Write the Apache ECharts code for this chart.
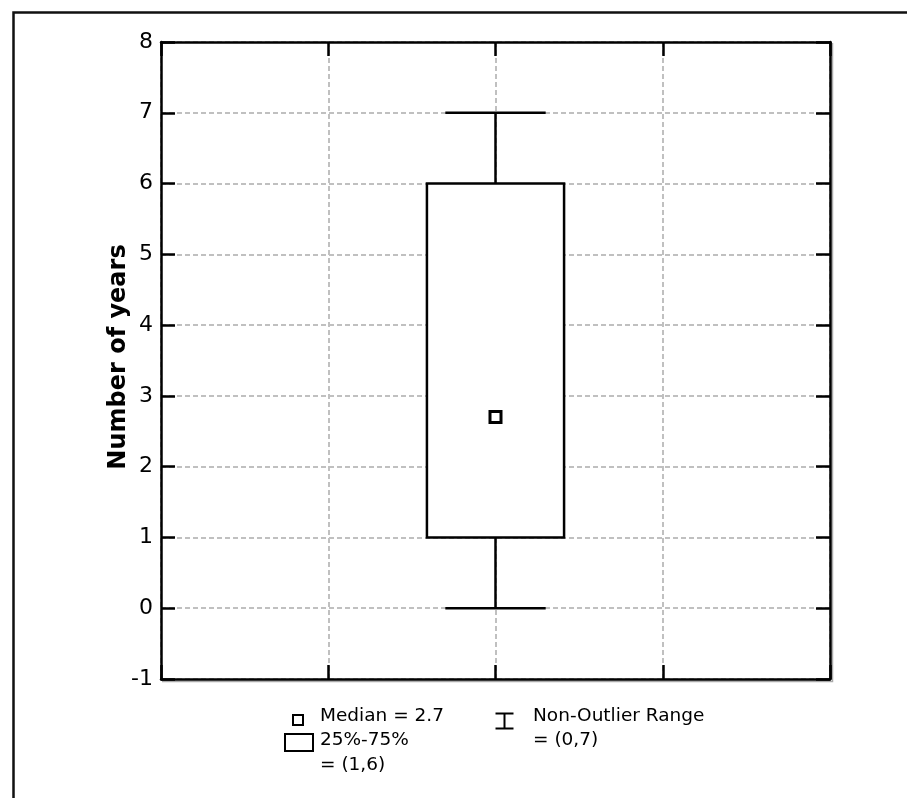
<!DOCTYPE html>
<html>
<head>
<meta charset="utf-8">
<script src="https://cdn.jsdelivr.net/npm/echarts@6/dist/echarts.min.js"></script>
<style>
html,body{margin:0;padding:0;background:#fff;}
#chart{width:907px;height:798px;}
</style>
</head>
<body>
<div id="chart"></div>
<script>
// ---- data ----
const categories = ['Number of years'];
const xPositions = [2];
const whiskerLow = [0];
const boxLow = [1];
const medianValues = [2.7];
const boxHigh = [6];
const whiskerHigh = [7];
const yTicks = [-1, 0, 1, 2, 3, 4, 5, 6, 7, 8];
const yAxisTitle = 'Number of years';
const legendMedian = 'Median = 2.7';
const legendBox = ['25%-75%', '= (1,6)'];
const legendRange = ['Non-Outlier Range', '= (0,7)'];

const seriesData = categories.map((c, i) => [xPositions[i], whiskerLow[i], boxLow[i], medianValues[i], boxHigh[i], whiskerHigh[i]]);

const FONT = '"DejaVu Sans", sans-serif';
const chart = echarts.init(document.getElementById('chart'), null, {renderer: 'canvas'});

const gridLine = {show: true, lineStyle: {color: '#c0c0c0', width: 2, type: [5, 3]}};
const tick = {show: true, inside: true, length: 14, lineStyle: {color: '#000', width: 2.5}};
const axisLine = {show: true, onZero: false, lineStyle: {color: '#000', width: 2.5}};

function renderItem(params, api) {
  const x = api.value(0);
  const pWL = api.coord([x, api.value(1)]);
  const pBL = api.coord([x, api.value(2)]);
  const pMed = api.coord([x, api.value(3)]);
  const pBH = api.coord([x, api.value(4)]);
  const pWH = api.coord([x, api.value(5)]);
  const unit = api.size([1, 0])[0];
  const boxHalf = unit * 0.41;
  const capHalf = unit * 0.30;
  const cx = pMed[0];
  const ls = {stroke: '#000', lineWidth: 2.5, fill: null};
  return {
    type: 'group',
    children: [
      {type: 'line', shape: {x1: cx, y1: pWH[1], x2: cx, y2: pBH[1]}, style: ls},
      {type: 'line', shape: {x1: cx, y1: pBL[1], x2: cx, y2: pWL[1]}, style: ls},
      {type: 'line', shape: {x1: cx - capHalf, y1: pWH[1], x2: cx + capHalf, y2: pWH[1]}, style: ls},
      {type: 'line', shape: {x1: cx - capHalf, y1: pWL[1], x2: cx + capHalf, y2: pWL[1]}, style: ls},
      {type: 'rect', shape: {x: cx - boxHalf, y: pBH[1], width: boxHalf * 2, height: pBL[1] - pBH[1]}, style: {stroke: '#000', lineWidth: 2.5, fill: '#fff'}},
      {type: 'rect', shape: {x: cx - 5.5, y: pMed[1] - 5.5, width: 11, height: 11}, style: {stroke: '#000', lineWidth: 3, fill: '#fff'}}
    ]
  };
}

const textStyle = (t, x, y, extra) => ({type: 'text', left: x, top: y, style: Object.assign({text: t, font: '18.5px ' + FONT, fill: '#000'}, extra || {})});

const option = {
  animation: false,
  backgroundColor: '#fff',
  grid: {left: 161, top: 42, right: 77, bottom: 119, show: false},
  xAxis: [
    {type: 'value', position: 'bottom', min: 0, max: 4, interval: 1, axisLine: axisLine, axisTick: tick, axisLabel: {show: false}, splitLine: gridLine},
    {type: 'value', position: 'top', min: 0, max: 4, interval: 1, axisLine: axisLine, axisTick: tick, axisLabel: {show: false}, splitLine: {show: false}}
  ],
  yAxis: [
    {type: 'value', position: 'left', min: yTicks[0], max: yTicks[yTicks.length - 1], interval: 1,
     axisLine: axisLine, axisTick: tick, splitLine: gridLine,
     axisLabel: {color: '#000', fontSize: 22, fontFamily: FONT, margin: 8}},
    {type: 'value', position: 'right', min: yTicks[0], max: yTicks[yTicks.length - 1], interval: 1,
     axisLine: axisLine, axisTick: tick, axisLabel: {show: false}, splitLine: {show: false}}
  ],
  series: [{
    type: 'custom',
    xAxisIndex: 0, yAxisIndex: 0,
    renderItem: renderItem,
    encode: {x: 0, y: [1, 2, 3, 4, 5]},
    data: seriesData,
    z: 5
  }],
  graphic: [
    {type: 'rect', left: 11, top: 10, shape: {width: 1000, height: 1000}, style: {stroke: '#111', lineWidth: 2.5, fill: null}, silent: true},
    {type: 'polyline', shape: {points: [[832.5, 43], [832.5, 681.5], [162, 681.5]]}, style: {stroke: '#aaa', lineWidth: 1.5, fill: null}, z: -1},
    // y axis title
    {type: 'text', x: 119, y: 357, rotation: Math.PI / 2,
     style: {text: yAxisTitle, font: 'bold 24px ' + FONT, fill: '#000', align: 'center', verticalAlign: 'middle'}},
    // legend: median marker
    {type: 'rect', left: 292, top: 714, shape: {width: 10, height: 10}, style: {stroke: '#000', lineWidth: 2, fill: '#fff'}},
    textStyle(legendMedian, 320, 707),
    // legend: box
    {type: 'rect', left: 284, top: 733, shape: {width: 28, height: 17}, style: {stroke: '#000', lineWidth: 2, fill: '#fff'}},
    textStyle(legendBox[0], 320, 731),
    textStyle(legendBox[1], 320, 756),
    // legend: range icon
    {type: 'group', left: 493, top: 711, children: [
      {type: 'line', shape: {x1: 0, y1: 1, x2: 18, y2: 1}, style: {stroke: '#000', lineWidth: 2}},
      {type: 'line', shape: {x1: 0, y1: 16, x2: 18, y2: 16}, style: {stroke: '#000', lineWidth: 2}},
      {type: 'line', shape: {x1: 9, y1: 1, x2: 9, y2: 16}, style: {stroke: '#000', lineWidth: 2}}
    ]},
    textStyle(legendRange[0], 533, 707),
    textStyle(legendRange[1], 533, 731)
  ]
};
chart.setOption(option);
</script>
</body>
</html>
